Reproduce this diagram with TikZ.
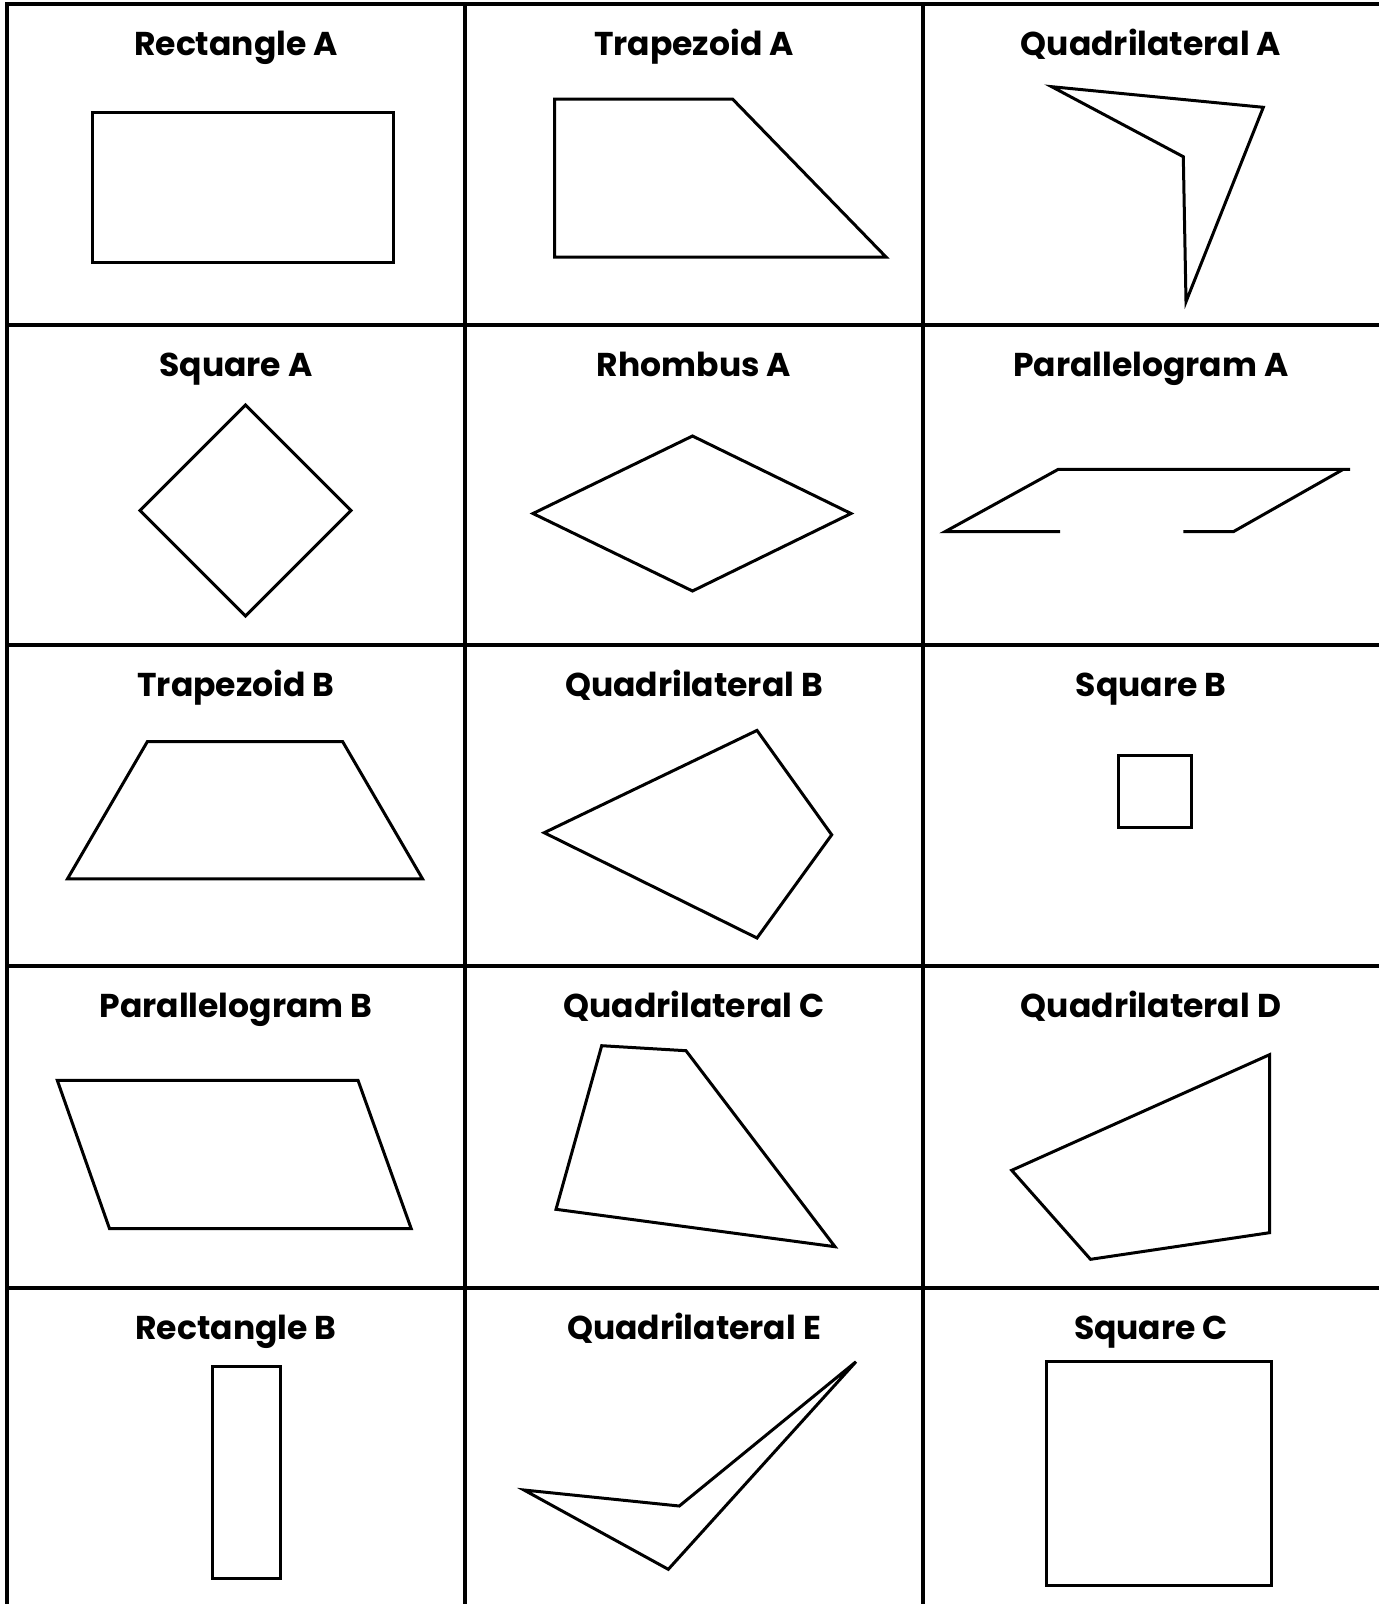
\documentclass[tikz,border=0pt]{standalone}
\usepackage{fontspec}
\setmainfont{Poppins}
\begin{document}
\begin{tikzpicture}[x=1pt,y=-1pt,
  gridline/.style={line width=3.2pt},
  figline/.style={line width=3pt,line join=miter},
  title/.style={font=\fontsize{33}{38}\selectfont\bfseries,anchor=base,inner sep=0pt}]
\useasboundingbox (0,0) rectangle (1379,1604);
% grid
\draw[gridline] (7,1604) -- (7,4) -- (1379,4);
\draw[gridline] (465,4) -- (465,1604);
\draw[gridline] (923,4) -- (923,1604);
\foreach \yy in {325,645,966,1288} \draw[gridline] (7,\yy) -- (1379,\yy);
% titles
\node[title] (t1) at (236,55) {Rectangle A};
\node[title] (t2) at (694,55) {Trapezoid A};
\node[title] (t3) at (1151,55) {Quadrilateral A};
\node[title] (t4) at (236,376) {Square A};
\node[title] (t5) at (694,376) {Rhombus A};
\node[title] (t6) at (1151,376) {Parallelogram A};
\node[title] (t7) at (236,696) {Trapezoid B};
\node[title] (t8) at (694,696) {Quadrilateral B};
\node[title] (t9) at (1151,696) {Square B};
\node[title] (t10) at (236,1017) {Parallelogram B};
\node[title] (t11) at (694,1017) {Quadrilateral C};
\node[title] (t12) at (1151,1017) {Quadrilateral D};
\node[title] (t13) at (236,1339) {Rectangle B};
\node[title] (t14) at (694,1339) {Quadrilateral E};
\node[title] (t15) at (1151,1339) {Square C};
% shapes
\draw[figline] (92,112.5) rectangle (393,262);
\draw[figline] (554.5,99) -- (732.5,99) -- (886,257) -- (554.5,257) -- cycle;
\draw[figline] (1051.7,86.7) -- (1263.3,107.3) -- (1186,301.7) -- (1183.3,156.7) -- cycle;
\draw[figline] (245.5,405) -- (351,510.5) -- (245.5,616) -- (140,510.5) -- cycle;
\draw[figline] (692.5,436) -- (851,513.5) -- (692.5,591) -- (533,513.5) -- cycle;
\draw[figline] (1060,531.7) -- (945,531.7) -- (1058.3,469.3) -- (1350,469.3);
\draw[figline] (1343.3,469.3) -- (1233.3,531.7) -- (1183.3,531.7);
\draw[figline] (147.3,741.7) -- (342.7,741.7) -- (422.5,878.8) -- (67.5,878.8) -- cycle;
\draw[figline] (757,730.4) -- (831.7,834.8) -- (757,938) -- (544.2,832.7) -- cycle;
\draw[figline] (1118,755) rectangle (1191.8,827.6);
\draw[figline] (57.3,1080.3) -- (358,1080.3) -- (411.2,1228.6) -- (109.5,1228.6) -- cycle;
\draw[figline] (601.7,1045.7) -- (686,1050.7) -- (835,1246.7) -- (556,1209.3) -- cycle;
\draw[figline] (1269.5,1054.7) -- (1269.5,1232.7) -- (1090.5,1259.3) -- (1011.7,1170.3) -- cycle;
\draw[figline] (212.7,1366.7) rectangle (280,1578.3);
\draw[figline] (856,1361.7) -- (679.3,1506) -- (524,1490) -- (668.3,1569.3) -- cycle;
\draw[figline] (1046.7,1361) rectangle (1271.7,1585);
\end{tikzpicture}
\end{document}
